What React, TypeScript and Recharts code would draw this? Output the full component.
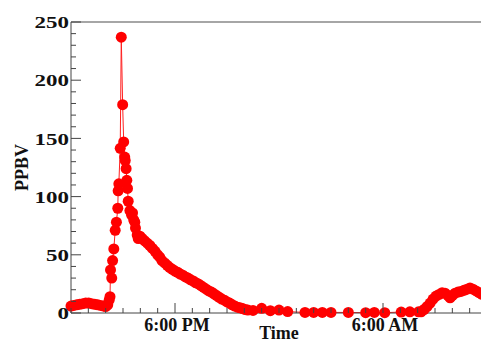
import { LineChart, Line, XAxis, YAxis, ReferenceLine } from "recharts";

// hours after 12:00 PM
const hours = [
  0, 0.16, 0.33, 0.5, 0.68, 0.85, 1.02, 1.19, 1.37, 1.54, 1.71, 1.89, 2.0, 2.12,
  2.2, 2.25, 2.28, 2.35, 2.4, 2.47, 2.55, 2.62, 2.7, 2.72, 2.76, 2.84, 2.9, 2.98,
  3.04, 3.1, 3.13, 3.18, 3.22, 3.26, 3.3, 3.4, 3.5, 3.55, 3.62, 3.68, 3.72, 3.82,
  3.88, 3.98, 4.1, 4.25, 4.4, 4.55, 4.7, 4.85, 5.0, 5.12, 5.25, 5.4, 5.55, 5.7,
  5.85, 6.0, 6.15, 6.3, 6.45, 6.6, 6.75, 6.9, 7.05, 7.2, 7.35, 7.5, 7.65, 7.8,
  7.95, 8.1, 8.25, 8.4, 8.55, 8.7, 8.85, 9.0, 9.15, 9.3, 9.45, 9.6, 9.75, 9.9,
  10.05, 10.2, 10.5, 11.0, 11.5, 12.0, 12.5, 13.5, 14.0, 14.5, 15.0, 16.0, 17.0,
  17.5, 18.1, 19.05, 19.55, 20.05, 20.2, 20.37, 20.54, 20.72, 20.89, 21.06,
  21.24, 21.41, 21.58, 21.75, 21.87, 22.0, 22.16, 22.33, 22.5, 22.67, 22.85,
  23.02, 23.19, 23.37, 23.54, 23.71, 23.89,
];
const ppbv = [
  6, 6.5, 7, 7.5, 8, 8.5, 8.5, 8, 7.5, 7, 6.5, 6, 5.5, 7,
  11, 14, 37, 30, 45, 55, 71, 78, 90, 105, 111, 141.5, 237, 179,
  147, 134, 131, 124, 114, 107, 96, 88, 84, 86, 80, 78, 73, 67,
  64, 66, 64, 62, 60, 58, 55.5, 53, 50, 48, 45, 43, 41, 39,
  37.5, 36, 35, 33.5, 32.5, 31, 30, 28.5, 27.5, 26, 25, 23.5, 22, 20.5,
  19, 18, 16.5, 15, 13.5, 12, 11, 9.5, 8.5, 7, 6, 5, 4.5, 3.8,
  3, 2.5, 2.2, 4, 2, 2.5, 1.2, 0.5, 0.5, 0.5, 0.5, 0.5, 0.3,
  0.5, 0.3, 0.8, 1, 1, 1, 3, 5.5, 8.5, 12, 14.5,
  16, 17.5, 17, 15, 13, 15, 17, 18, 18.5, 19.5, 20.5,
  21.5, 20.5, 19, 17.5, 16, 15,
];

const yTicks = [0, 10, 20, 30, 40, 50, 60, 70, 80, 90, 100, 110, 120, 130, 140, 150, 160, 170, 180, 190, 200, 210, 220, 230, 240, 250];
const xTicks = [0, 1, 2, 3, 4, 5, 6, 7, 8, 9, 10, 11, 12, 13, 14, 15, 16, 17, 18, 19, 20, 21, 22, 23, 24];
const xTickLabels: Record<number, string> = { 6: "6:00 PM", 18: "6:00 AM" };

const data = hours.map((h, i) => ({ h, v: ppbv[i] }));

const FONT = '"Liberation Serif", "Times New Roman", serif';
const AXIS = "#444";

function YTick(props: any) {
  const { x, y, payload } = props;
  const major = payload.value % 50 === 0;
  return (
    <g>
      <line x1={x} x2={x + (major ? 10 : 5)} y1={y} y2={y} stroke={AXIS} />
      {major && (
        <text
          transform={`translate(${x - 2},${y}) scale(1.35,1)`}
          textAnchor="end"
          dy="0.36em"
          fontSize={17}
          fontWeight="bold"
          fontFamily={FONT}
          fill="#111"
        >
          {payload.value}
        </text>
      )}
    </g>
  );
}

function XTick(props: any) {
  const { x, y, payload } = props;
  const label = xTickLabels[payload.value];
  return (
    <g>
      <line x1={x} x2={x} y1={y} y2={y - (label ? 10 : 5)} stroke={AXIS} />
      {label && (
        <text x={x + 2} y={y + 18} textAnchor="middle" fontSize={18} fontWeight="bold" fontFamily={FONT} fill="#111">
          {label}
        </text>
      )}
    </g>
  );
}

export default function App() {
  return (
    <div style={{ position: "absolute", left: 0, top: 0, width: 481, height: 343, overflow: "hidden", background: "#fff" }}>
      <LineChart width={500} height={343} data={data} margin={{ top: 22, right: 13, bottom: 0, left: 0 }}>
        <XAxis
          dataKey="h"
          type="number"
          domain={[0, 24]}
          ticks={xTicks}
          interval={0}
          tick={<XTick />}
          tickLine={false}
          tickSize={0}
          tickMargin={0}
          height={30}
          axisLine={{ stroke: AXIS }}
          label={{ value: "Time", position: "insideBottom", offset: 4, fontSize: 18, fontWeight: "bold", fontFamily: FONT, fill: "#111" }}
        />
        <YAxis
          type="number"
          domain={[0, 250]}
          ticks={yTicks}
          interval={0}
          tick={<YTick />}
          tickLine={false}
          tickSize={0}
          tickMargin={0}
          width={71}
          axisLine={{ stroke: AXIS }}
          label={{
            content: (p: any) => {
              const vb = p.viewBox || {};
              const cy = (vb.y ?? 22) + (vb.height ?? 291) / 2;
              return (
                <text
                  x={22}
                  y={cy}
                  transform={`rotate(-90, 22, ${cy})`}
                  textAnchor="middle"
                  dominantBaseline="central"
                  fontSize={18}
                  fontWeight="bold"
                  fontFamily={FONT}
                  fill="#111"
                >
                  PPBV
                </text>
              );
            },
          }}
        />
        <ReferenceLine y={250} stroke="#888" strokeWidth={1.5} />
        <Line
          type="linear"
          dataKey="v"
          stroke="#ff2020"
          strokeWidth={1}
          dot={{ r: 5.5, fill: "#ff0000", stroke: "none" }}
          isAnimationActive={false}
        />
      </LineChart>
    </div>
  );
}
